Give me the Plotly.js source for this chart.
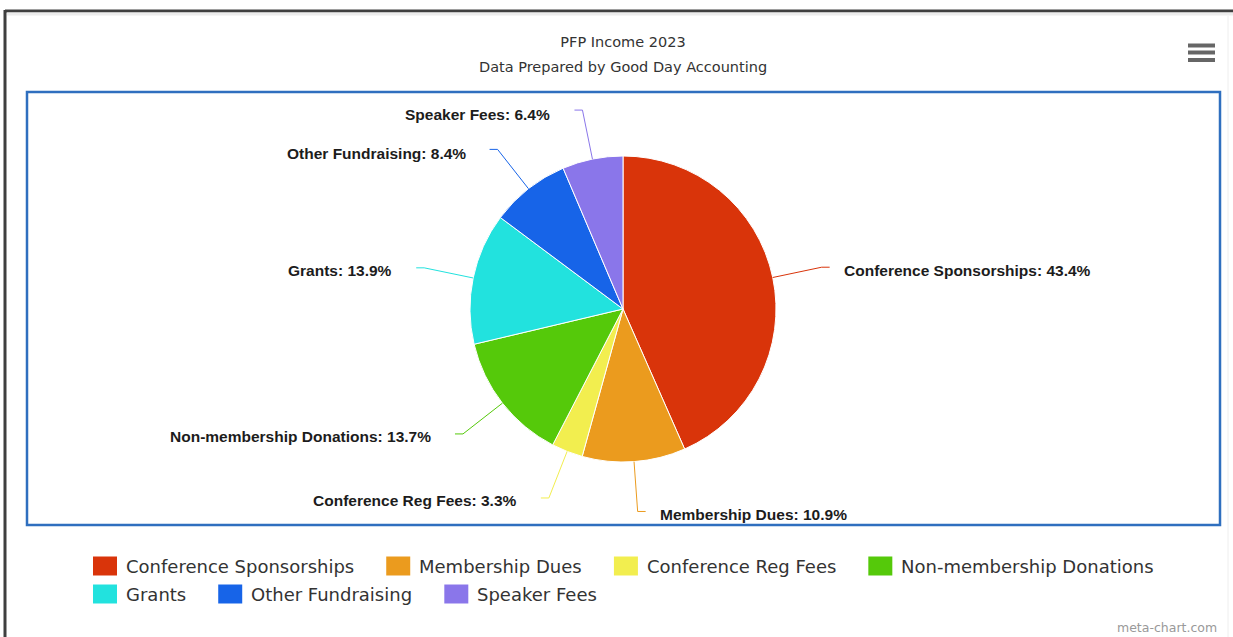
<!DOCTYPE html>
<html><head><meta charset="utf-8">
<script src="https://cdn.plot.ly/plotly-3.0.1.min.js"></script>
<style>html,body{margin:0;padding:0;background:#fff;overflow:hidden}#chart{width:1233px;height:637px}</style>
</head><body><div id="chart"></div>
<script>
// ---- data ----
const categories = ['Conference Sponsorships','Membership Dues','Conference Reg Fees','Non-membership Donations','Grants','Other Fundraising','Speaker Fees'];
const shares = [43.4, 10.9, 3.3, 13.7, 13.9, 8.4, 6.4];
const sliceColors = ['#d9340a','#eb9b1e','#f2ee4f','#55c90a','#22e2de','#1764e8','#8a76ea'];
const titleText = 'PFP Income 2023';
const subtitleText = 'Data Prepared by Good Day Accounting';
const creditText = 'meta-chart.com';

// ---- geometry / style ----
const W = 1233, H = 637;
const cx = 623, cy = 309, R = 153;
const px = x => x / W, py = y => 1 - y / H;
const shapes = [], annotations = [];

// frame decorations
shapes.push({type:'line', xref:'paper', yref:'paper', x0:px(5), x1:px(1233), y0:py(11), y1:py(11), line:{color:'#3f3f3f', width:3}});
shapes.push({type:'line', xref:'paper', yref:'paper', x0:px(5), x1:px(5), y0:py(10), y1:py(637), line:{color:'#3f3f3f', width:3}});
shapes.push({type:'line', xref:'paper', yref:'paper', x0:px(7), x1:px(1233), y0:py(14), y1:py(14), line:{color:'#ececec', width:3}});
shapes.push({type:'line', xref:'paper', yref:'paper', x0:px(1228), x1:px(1228), y0:py(16), y1:py(637), line:{color:'#eeeeee', width:1}});
shapes.push({type:'rect', xref:'paper', yref:'paper', x0:px(27), x1:px(1220), y0:py(92), y1:py(525), line:{color:'#2f6fbf', width:2.5}, fillcolor:'rgba(0,0,0,0)'});
// menu icon
[45.5, 52.5, 60].forEach(y => shapes.push({type:'rect', xref:'paper', yref:'paper', x0:px(1188), x1:px(1215), y0:py(y-2), y1:py(y+2), line:{width:0}, fillcolor:'#666'}));

// data labels with connectors (derived from shares)
const total = shares.reduce((a,b)=>a+b,0);
let cum = 0;
categories.forEach((c,i) => {
  const mid = (cum + shares[i]/2) / total * 2 * Math.PI;
  cum += shares[i];
  const dx = Math.sin(mid), dy = -Math.cos(mid);
  const side = dx >= 0 ? 1 : -1;
  const ex = cx + R*dx, ey = cy + R*dy;
  const tx = cx + (R+50)*dx, ty = cy + (R+50)*dy;
  const hx = tx + side*8;
  shapes.push({type:'path', xref:'paper', yref:'paper',
    path:`M ${px(ex)},${py(ey)} L ${px(tx)},${py(ty)} L ${px(hx)},${py(ty)}`,
    line:{color:sliceColors[i], width:1}});
  annotations.push({text:`${c}: ${shares[i].toFixed(1)}%`, xref:'paper', yref:'paper',
    x:px(tx + side*(side>0?21:31)), y:py(ty+(dy<-0.7?4:3)), xanchor: side>0?'left':'right', yanchor:'middle',
    showarrow:false, borderpad:0,
    font:{family:'Liberation Sans, Arial, sans-serif', size:15.5, weight:'bold', color:'#1c1c1c'}});
});

// subtitle and credits
annotations.push({text:subtitleText, xref:'paper', yref:'paper', x:px(623), y:py(67), xanchor:'center', yanchor:'middle', showarrow:false, borderpad:0,
  font:{family:'DejaVu Sans', size:14.5, color:'#333'}});
annotations.push({text:creditText, xref:'paper', yref:'paper', x:px(1218), y:py(627), xanchor:'right', yanchor:'middle', showarrow:false, borderpad:0,
  font:{family:'DejaVu Sans', size:12.5, color:'#999'}});

// legend (flow layout measured from text)
const ctx = document.createElement('canvas').getContext('2d');
ctx.font = '18px "DejaVu Sans"';
let lx = 93, row = 0, firstInRow = true;
categories.forEach((c,i) => {
  const tw = ctx.measureText(c).width;
  const itemW = 24 + 8 + tw;
  if (!firstInRow && lx + itemW > 1200) { row++; lx = 93; }
  firstInRow = false;
  const y = 566 + row*28;
  shapes.push({type:'rect', xref:'paper', yref:'paper', x0:px(lx), x1:px(lx+24), y0:py(y-9.5), y1:py(y+9.5), fillcolor:sliceColors[i], line:{width:0}});
  annotations.push({text:c, xref:'paper', yref:'paper', x:px(lx+32), y:py(y), xanchor:'left', yanchor:'middle', showarrow:false, borderpad:0,
    font:{family:'DejaVu Sans', size:18, color:'#333'}});
  lx += itemW + 33;
});

const trace = {
  type:'pie', labels:categories, values:shares, sort:false, direction:'clockwise', rotation:0,
  marker:{colors:sliceColors, line:{color:'#ffffff', width:1}},
  textinfo:'none', hoverinfo:'label+percent', showlegend:false,
  domain:{x:[px(cx-R), px(cx+R)], y:[py(cy+R), py(cy-R)]}
};

const layout = {
  width:W, height:H, margin:{l:0,r:0,t:0,b:0}, paper_bgcolor:'#fff',
  title:{text:titleText, x:px(623), xanchor:'center', xref:'paper', y:py(42), yref:'container', yanchor:'middle',
    font:{family:'DejaVu Sans', size:14.5, color:'#333'}},
  showlegend:false, shapes, annotations
};
Plotly.newPlot('chart', [trace], layout, {displayModeBar:false, staticPlot:false});
</script></body></html>
